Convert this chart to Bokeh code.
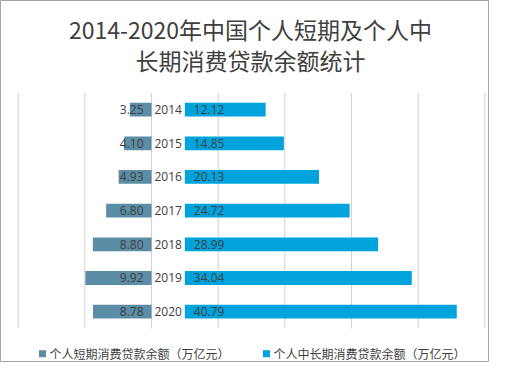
from bokeh.plotting import figure
from bokeh.models import Range1d, ColumnDataSource
from bokeh.core.properties import value
from bokeh.embed import file_html
from bokeh.resources import INLINE

# ---- data ----
years = ["2014", "2015", "2016", "2017", "2018", "2019", "2020"]
short_term = [3.25, 4.10, 4.93, 6.80, 8.80, 9.92, 8.78]
mid_long_term = [12.12, 14.85, 20.13, 24.72, 28.99, 34.04, 40.79]
grid_ticks = [-20, -10, 0, 10, 20, 30, 40, 50]
series_names = ["个人短期消费贷款余额（万亿元）", "个人中长期消费贷款余额（万亿元）"]
title_lines = ["2014-2020年中国个人短期及个人中", "长期消费贷款余额统计"]

# ---- style ----
C_SHORT = "#5B8DA6"
C_LONG = "#00A3DC"
TXT = "#404040"
GAP = 5.0          # space (in value units) between the two sides for the year labels
BAR_H = 0.41
CJK = "Noto Sans CJK SC"
NUM = "Open Sans"

W, H = 489, 362
# data-range so that 1 value unit = 6.667px, row pitch = 33.67px
x0, x1 = -22.65, 50.7
y_top, y_bot = -3.24, 7.51

p = figure(width=W, height=H, output_backend="svg", toolbar_location=None,
           x_range=Range1d(x0, x1), y_range=Range1d(y_bot, y_top),
           min_border=0, background_fill_color="white", border_fill_color="white")
p.axis.visible = False
p.xgrid.visible = False
p.ygrid.visible = False
p.outline_line_color = "#A6A6A6"
p.outline_line_width = 1

idx = list(range(len(years)))

# vertical gridlines
p.segment(x0=grid_ticks, x1=grid_ticks, y0=[-0.5] * len(grid_ticks), y1=[len(years) - 0.5] * len(grid_ticks),
          line_color="#D0D0D0", line_width=1)

src = ColumnDataSource(dict(
    y=idx, year=years,
    s_left=[-v for v in short_term], s_right=[0] * len(years),
    l_left=[GAP] * len(years), l_right=[GAP + v for v in mid_long_term],
    s_lab=[f"{v:.2f}" for v in short_term], l_lab=[f"{v:.2f}" for v in mid_long_term],
    zero=[0] * len(years), gap=[GAP] * len(years), mid=[GAP / 2] * len(years),
))

p.hbar(y="y", left="s_left", right="s_right", height=BAR_H, source=src, color=C_SHORT, line_color=None)
p.hbar(y="y", left="l_left", right="l_right", height=BAR_H, source=src, color=C_LONG, line_color=None)

p.text(x="zero", y="y", text="s_lab", source=src, x_offset=-8, text_align="right", text_baseline="middle",
       text_font=value(NUM), text_font_size="12px", text_color=TXT)
p.text(x="gap", y="y", text="l_lab", source=src, x_offset=9, text_align="left", text_baseline="middle",
       text_font=value(NUM), text_font_size="12px", text_color=TXT)
p.text(x="mid", y="y", text="year", source=src, text_align="center", text_baseline="middle",
       text_font=value(NUM), text_font_size="12px", text_color=TXT)

# title
p.text(x=[14.85, 14.85], y=[-2.38, -1.46], text=title_lines, text_align="center", text_baseline="middle",
       text_font=value(CJK), text_font_size="23px", text_color=TXT)

# legend
leg_x = [-16.35, 17.25]
leg_y = [7.25, 7.25]
p.scatter(x=leg_x, y=leg_y, marker="square", size=7, color=[C_SHORT, C_LONG], line_color=None)
p.text(x=leg_x, y=leg_y, text=series_names, x_offset=7, text_align="left", text_baseline="middle",
       text_font=value(CJK), text_font_size="12px", text_color="#404040")

open("out.html", "w").write(file_html(p, INLINE))
